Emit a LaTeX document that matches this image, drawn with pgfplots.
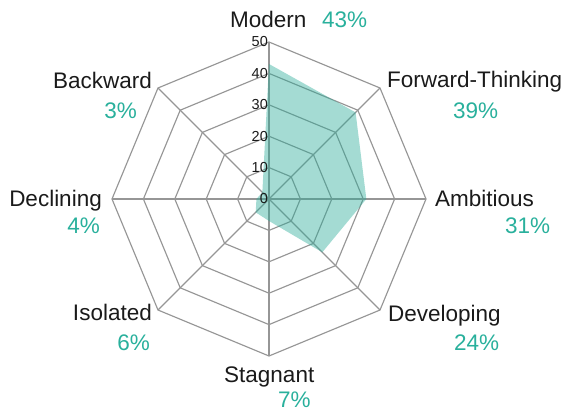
\documentclass[border=0pt]{standalone}
\usepackage{pgfplots}
\pgfplotsset{compat=1.18}
\usepackage{fontspec}
\setmainfont{Liberation Sans}
\definecolor{gridgray}{RGB}{150,150,150}
\definecolor{areafill}{RGB}{38,170,150}
\definecolor{pct}{RGB}{41,176,156}
\definecolor{lbl}{RGB}{26,26,26}
\begin{document}
\begin{tikzpicture}
\begin{axis}[width=566bp,height=412bp,scale only axis,hide axis,clip=false,
  xmin=-85.67,xmax=94.59,ymin=-67.83,ymax=63.38]
% grid rings
\addplot[gridgray,line width=1.15bp,data cs=polar,mark=none] coordinates {(90,10) (45,10) (0,10) (-45,10) (-90,10) (-135,10) (180,10) (135,10) (90,10)};
\addplot[gridgray,line width=1.15bp,data cs=polar,mark=none] coordinates {(90,20) (45,20) (0,20) (-45,20) (-90,20) (-135,20) (180,20) (135,20) (90,20)};
\addplot[gridgray,line width=1.15bp,data cs=polar,mark=none] coordinates {(90,30) (45,30) (0,30) (-45,30) (-90,30) (-135,30) (180,30) (135,30) (90,30)};
\addplot[gridgray,line width=1.15bp,data cs=polar,mark=none] coordinates {(90,40) (45,40) (0,40) (-45,40) (-90,40) (-135,40) (180,40) (135,40) (90,40)};
\addplot[gridgray,line width=1.15bp,data cs=polar,mark=none] coordinates {(90,50) (45,50) (0,50) (-45,50) (-90,50) (-135,50) (180,50) (135,50) (90,50)};
% spokes
\addplot[gridgray,line width=1.15bp,data cs=polar,mark=none] coordinates {(90,50) (-90,50)};
\addplot[gridgray,line width=1.15bp,data cs=polar,mark=none] coordinates {(45,50) (-135,50)};
\addplot[gridgray,line width=1.15bp,data cs=polar,mark=none] coordinates {(0,50) (180,50)};
\addplot[gridgray,line width=1.15bp,data cs=polar,mark=none] coordinates {(-45,50) (135,50)};
% data area
\addplot[draw=none,fill=areafill,fill opacity=0.42,data cs=polar,mark=none] coordinates {(90,43) (45,39) (0,31) (-45,24) (-90,7) (-135,6) (180,4) (135,3) (90,43)};
% radial tick labels
\foreach \v in {0,10,20,30,40,50}{
  \edef\tmp{\noexpand\node[anchor=east,inner sep=0pt,text=lbl,font=\noexpand\fontsize{14.5bp}{16bp}\noexpand\selectfont] at (axis cs:-0.3,\v) {\v};}
  \tmp
}
\end{axis}
\begin{scope}[shift={(current axis.north west)},x=1bp,y=-1bp,
  lab/.style={inner sep=0pt,text=lbl,font=\fontsize{22.5bp}{27bp}\selectfont},
  pc/.style={inner sep=0pt,text=pct,font=\fontsize{22.5bp}{27bp}\selectfont}]
\node[lab,anchor=base west] at (230,28) {Modern};
\node[pc,anchor=base west] at (322,28) {43\%};
\node[lab,anchor=base west] at (387,88) {Forward-Thinking};
\node[pc,anchor=base west] at (453,119) {39\%};
\node[lab,anchor=base west] at (435,207) {Ambitious};
\node[pc,anchor=base west] at (505,234) {31\%};
\node[lab,anchor=base west] at (388,322) {Developing};
\node[pc,anchor=base west] at (454,351) {24\%};
\node[lab,anchor=base west] at (224,383) {Stagnant};
\node[pc,anchor=base west] at (278,408) {7\%};
\node[lab,anchor=base east] at (152,321) {Isolated};
\node[pc,anchor=base east] at (150,351) {6\%};
\node[lab,anchor=base east] at (102,207) {Declining};
\node[pc,anchor=base east] at (100,234) {4\%};
\node[lab,anchor=base east] at (152,89) {Backward};
\node[pc,anchor=base east] at (137,119) {3\%};
\end{scope}
\pgfresetboundingbox
\path[use as bounding box] (current axis.south west) rectangle (current axis.north east);
\end{tikzpicture}
\end{document}
